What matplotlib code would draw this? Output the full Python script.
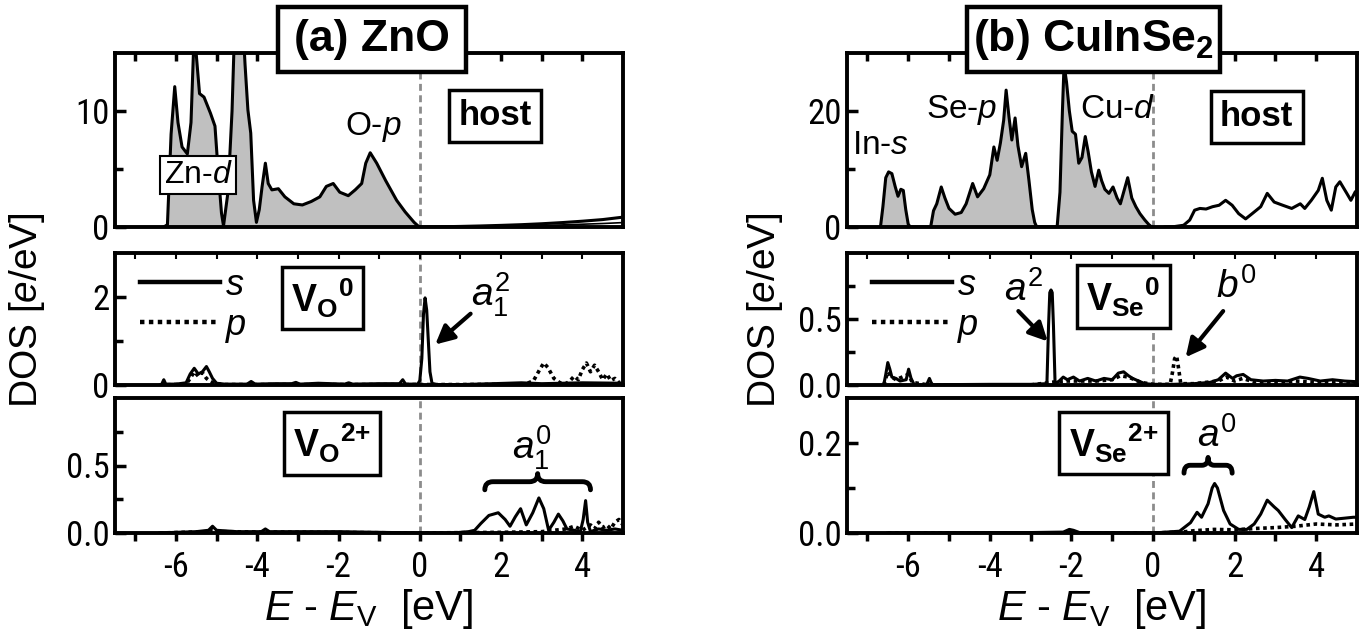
import matplotlib
matplotlib.use('Agg')
import matplotlib.pyplot as plt
from matplotlib import font_manager as fm
from matplotlib.path import Path
from matplotlib.patches import PathPatch, Rectangle

plt.rcParams['font.family'] = ['Liberation Sans', 'DejaVu Sans']
plt.rcParams['mathtext.fontset'] = 'custom'
plt.rcParams['mathtext.rm'] = 'Liberation Sans'
plt.rcParams['mathtext.it'] = 'Liberation Sans:italic'
plt.rcParams['mathtext.bf'] = 'Liberation Sans:bold'
plt.rcParams['axes.unicode_minus'] = False

# pick a condensed face for tick labels if one is installed
_entries = fm.fontManager.ttflist
_names = {f.name for f in _entries}
TICKFONT = None
for nm, sz in [('Roboto Condensed', 25), ('Liberation Sans Narrow', 25),
               ('Open Sans Condensed', 23), ('Noto Sans Condensed', 23),
               ('DejaVu Sans Condensed', 22)]:
    if nm in _names:
        TICKFONT, TICKSIZE = fm.FontProperties(family=nm, size=sz), sz
        break
if TICKFONT is None:
    if any(f.name == 'DejaVu Sans' and f.stretch == 'condensed' for f in _entries):
        TICKFONT, TICKSIZE = fm.FontProperties(family='DejaVu Sans', stretch='condensed', size=22), 22
    else:
        TICKFONT, TICKSIZE = fm.FontProperties(family='Liberation Sans', size=22), 22

# ---------------- data ----------------
XTICKS = [-6, -4, -2, 0, 2, 4]
XTICKLABELS = ['-6', '-4', '-2', '0', '2', '4']
XMINOR = [-7, -5, -3, -1, 1, 3]

# (a) ZnO host
ZNO_VB_E = [-6.30, -6.21, -6.12, -6.03, -5.95, -5.85, -5.72, -5.63, -5.55, -5.48,
            -5.42, -5.31, -5.15, -5.04, -4.97, -4.88, -4.83, -4.72, -4.62, -4.55,
            -4.45, -4.36, -4.30, -4.23, -4.16, -4.09, -4.02, -3.95, -3.88, -3.80,
            -3.73, -3.64, -3.48, -3.32, -3.10, -2.89, -2.67, -2.46, -2.30, -2.13,
            -1.97, -1.76, -1.59, -1.43, -1.33, -1.22, -1.06, -0.84, -0.57, -0.36,
            -0.14, -0.03, 0.00]
ZNO_VB_DOS = [0.0, 0.2, 8.0, 12.1, 9.0, 6.9, 6.3, 9.0, 17.0, 14.0,
              11.5, 11.2, 9.8, 8.7, 5.2, 1.2, 0.1, 3.0, 10.0, 18.0,
              22.0, 18.0, 14.0, 10.1, 8.1, 2.3, 0.4, 1.5, 3.5, 5.5,
              3.75, 3.2, 3.3, 2.6, 2.0, 1.9, 2.2, 2.6, 3.5, 3.75,
              3.0, 2.7, 3.2, 3.75, 5.5, 6.4, 5.5, 4.0, 2.3, 1.3,
              0.4, 0.05, 0.0]
ZNO_CB_E = [0.0, 0.5, 1.0, 1.5, 2.0, 2.5, 3.0, 3.5, 4.0, 4.5, 5.0]
ZNO_CB_DOS1 = [0.0, 0.02, 0.05, 0.09, 0.14, 0.20, 0.28, 0.38, 0.50, 0.64, 0.85]
ZNO_CB_DOS2 = [0.0, 0.01, 0.02, 0.04, 0.06, 0.09, 0.13, 0.18, 0.24, 0.30, 0.38]

# (a) V_O^0
VO0_S_E = [-6.40, -6.35, -6.30, -6.25, -6.00, -5.75, -5.65, -5.55, -5.45, -5.35,
           -5.25, -5.18, -5.10, -5.00, -4.80, -4.25, -4.15, -4.05, -3.60, -3.15,
           -3.05, -2.95, -2.50, -1.85, -1.75, -1.65, -1.00, -0.50, -0.42, -0.35,
           -0.05, 0.00, 0.05, 0.09, 0.13, 0.17, 0.21, 0.25, 0.30, 0.40,
           1.00, 1.80, 2.50, 3.00, 4.00, 5.00]
VO0_S_DOS = [0.0, 0.02, 0.12, 0.02, 0.02, 0.05, 0.25, 0.38, 0.25, 0.30,
             0.42, 0.30, 0.15, 0.04, 0.02, 0.02, 0.08, 0.02, 0.03, 0.03,
             0.06, 0.02, 0.04, 0.02, 0.05, 0.02, 0.03, 0.03, 0.12, 0.02,
             0.02, 0.10, 0.60, 1.60, 1.98, 1.70, 1.00, 0.30, 0.04, 0.01,
             0.01, 0.03, 0.05, 0.03, 0.05, 0.04]
VO0_P_E = [-6.40, -5.75, -5.65, -5.55, -5.45, -5.35, -5.25, -5.15, -5.05, -4.80,
           -3.00, -1.00, 0.00, 1.00, 2.60, 2.80, 2.95, 3.05, 3.15, 3.30,
           3.45, 3.60, 3.70, 3.80, 3.90, 4.00, 4.10, 4.20, 4.30, 4.40,
           4.50, 4.60, 4.70, 4.80, 4.90, 5.00]
VO0_P_DOS = [0.0, 0.02, 0.15, 0.30, 0.20, 0.28, 0.15, 0.08, 0.03, 0.01,
             0.01, 0.01, 0.01, 0.01, 0.02, 0.10, 0.35, 0.50, 0.40, 0.15,
             0.05, 0.03, 0.10, 0.20, 0.12, 0.35, 0.50, 0.30, 0.45, 0.30,
             0.12, 0.25, 0.10, 0.15, 0.05, 0.08]

# (a) V_O^2+
VO2_S_E = [-6.40, -6.00, -5.50, -5.20, -5.10, -5.00, -4.50, -3.90, -3.80, -3.70,
           -3.00, -2.00, -1.00, 0.00, 0.80, 1.00, 1.20, 1.35, 1.50, 1.70,
           1.93, 2.10, 2.22, 2.35, 2.48, 2.62, 2.78, 2.93, 3.05, 3.17,
           3.30, 3.41, 3.52, 3.62, 3.80, 3.95, 4.02, 4.08, 4.13, 4.20,
           4.40, 4.60, 4.80, 5.00]
VO2_S_DOS = [0.0, 0.005, 0.01, 0.02, 0.05, 0.02, 0.01, 0.01, 0.03, 0.01,
             0.01, 0.01, 0.005, 0.0, 0.0, 0.005, 0.01, 0.02, 0.07, 0.13,
             0.15, 0.10, 0.05, 0.12, 0.18, 0.06, 0.15, 0.26, 0.18, 0.02,
             0.08, 0.14, 0.09, 0.03, 0.02, 0.01, 0.10, 0.24, 0.08, 0.01,
             0.03, 0.02, 0.03, 0.02]
VO2_P_E = [-6.4, -5.2, -5.1, -5.0, 0.0, 2.0, 3.0, 3.6, 3.8, 4.0,
           4.2, 4.3, 4.4, 4.5, 4.6, 4.7, 4.8, 4.9, 5.0]
VO2_P_DOS = [0.0, 0.01, 0.03, 0.01, 0.0, 0.005, 0.01, 0.03, 0.05, 0.02,
             0.06, 0.03, 0.08, 0.04, 0.06, 0.03, 0.08, 0.10, 0.06]

# (b) CuInSe2 host (In-s, Se-p, Cu-d bands)
CIS_VB_E = [-6.68, -6.62, -6.55, -6.48, -6.40, -6.32, -6.25, -6.18, -6.12, -6.06, -6.00, -5.95,
            -5.45, -5.38, -5.30, -5.19, -5.10, -5.00, -4.85, -4.70, -4.58, -4.42,
            -4.30, -4.15, -4.00, -3.90, -3.82, -3.74, -3.66, -3.60, -3.53, -3.46,
            -3.38, -3.31, -3.22, -3.12, -3.04, -2.96, -2.90, -2.85,
            -2.35, -2.28, -2.22, -2.18, -2.12, -2.05, -1.98, -1.90, -1.82, -1.74,
            -1.66, -1.59, -1.51, -1.42, -1.33, -1.26, -1.18, -1.08, -0.98, -0.88,
            -0.80, -0.72, -0.62, -0.52, -0.42, -0.32, -0.20, -0.10, -0.03]
CIS_VB_DOS = [0.0, 3.5, 8.5, 9.5, 9.2, 7.0, 5.3, 6.5, 6.3, 3.0, 0.5, 0.0,
              0.0, 2.8, 4.0, 6.9, 5.0, 3.2, 2.2, 2.5, 4.0, 7.5,
              5.2, 6.6, 9.0, 13.8, 11.5, 14.5, 18.4, 23.6, 19.0, 15.0,
              18.8, 14.0, 10.4, 12.7, 8.0, 3.0, 0.8, 0.0,
              0.0, 6.0, 20.0, 28.0, 25.0, 20.0, 16.5, 16.0, 11.0, 12.0,
              15.6, 13.0, 9.5, 7.0, 9.8, 8.0, 6.5, 5.8, 6.9, 5.0,
              4.0, 6.0, 8.5, 5.0, 3.5, 2.3, 1.2, 0.4, 0.0]
CIS_CB_E = [0.30, 0.50, 0.75, 0.90, 1.02, 1.15, 1.30, 1.46, 1.62, 1.78,
            1.94, 2.10, 2.27, 2.43, 2.64, 2.80, 2.97, 3.18, 3.40, 3.61,
            3.72, 3.88, 4.05, 4.15, 4.26, 4.37, 4.48, 4.58, 4.75, 4.85,
            4.96, 5.00]
CIS_CB_DOS = [0.0, 0.05, 0.3, 1.2, 2.9, 3.2, 3.1, 3.5, 3.75, 4.6,
              3.75, 2.3, 1.4, 2.3, 3.5, 5.8, 4.3, 3.75, 3.2, 4.0,
              3.2, 4.6, 6.3, 8.4, 4.6, 2.9, 6.9, 7.8, 5.8, 4.6,
              6.1, 5.5]

# (b) V_Se^0
VSE0_S_E = [-6.60, -6.55, -6.50, -6.45, -6.40, -6.30, -6.20, -6.05, -5.99, -5.93,
            -5.85, -5.55, -5.48, -5.44, -5.40, -5.00, -4.00, -3.00, -2.60, -2.56,
            -2.53, -2.50, -2.47, -2.44, -2.40, -2.30, -2.20, -2.10, -1.95, -1.80,
            -1.60, -1.40, -1.20, -1.00, -0.85, -0.72, -0.60, -0.50, -0.35, -0.20,
            0.00, 0.50, 1.00, 1.40, 1.60, 1.78, 1.95, 2.05, 2.21, 2.40,
            2.70, 3.00, 3.30, 3.60, 3.80, 4.10, 4.40, 4.70, 5.00]
VSE0_S_DOS = [0.0, 0.08, 0.17, 0.12, 0.06, 0.05, 0.03, 0.04, 0.12, 0.05,
              0.0, 0.0, 0.05, 0.02, 0.0, 0.003, 0.005, 0.005, 0.01, 0.45,
              0.70, 0.72, 0.70, 0.45, 0.01, 0.03, 0.06, 0.04, 0.06, 0.03,
              0.05, 0.03, 0.05, 0.04, 0.09, 0.10, 0.07, 0.05, 0.03, 0.01,
              0.005, 0.005, 0.01, 0.02, 0.04, 0.09, 0.05, 0.07, 0.08, 0.04,
              0.03, 0.035, 0.03, 0.06, 0.05, 0.03, 0.04, 0.03, 0.025]
VSE0_P_E = [-6.60, -6.50, -6.40, -6.30, -6.00, -5.90, -5.50, -3.00, -2.50, -2.20,
            -1.80, -1.40, -1.00, -0.80, -0.60, -0.30, 0.00, 0.42, 0.48, 0.53,
            0.58, 0.63, 0.68, 1.00, 1.60, 1.80, 2.00, 2.20, 2.50, 3.00,
            3.50, 4.00, 4.50, 5.00]
VSE0_P_DOS = [0.0, 0.10, 0.06, 0.04, 0.08, 0.02, 0.0, 0.0, 0.02, 0.03,
              0.03, 0.03, 0.04, 0.07, 0.06, 0.02, 0.005, 0.005, 0.10, 0.20,
              0.22, 0.12, 0.01, 0.01, 0.03, 0.06, 0.03, 0.05, 0.02, 0.02,
              0.03, 0.02, 0.02, 0.01]

# (b) V_Se^2+
VSE2_S_E = [-6.50, -3.00, -2.20, -2.05, -1.95, -1.80, 0.00, 0.65, 0.92, 1.08,
            1.19, 1.35, 1.45, 1.51, 1.58, 1.73, 1.89, 2.10, 2.30, 2.48,
            2.64, 2.80, 2.97, 3.07, 3.24, 3.40, 3.56, 3.72, 3.83, 3.94,
            4.05, 4.21, 4.31, 4.48, 4.70, 4.91, 5.00]
VSE2_S_DOS = [0.0, 0.001, 0.002, 0.008, 0.006, 0.001, 0.0, 0.004, 0.023, 0.046,
              0.035, 0.065, 0.10, 0.11, 0.10, 0.05, 0.02, 0.008, 0.008, 0.02,
              0.042, 0.073, 0.058, 0.05, 0.03, 0.012, 0.038, 0.03, 0.058, 0.092,
              0.042, 0.035, 0.038, 0.031, 0.033, 0.035, 0.035]
VSE2_P_E = [-6.5, 0.0, 0.7, 1.0, 1.5, 2.0, 2.5, 3.0, 3.5, 4.0, 4.5, 5.0]
VSE2_P_DOS = [0.0, 0.0, 0.002, 0.005, 0.008, 0.007, 0.010, 0.012, 0.015, 0.020, 0.018, 0.020]

# ---------------- figure ----------------
W, H = 1366, 637
fig = plt.figure(figsize=(W / 100, H / 100), dpi=100)


def fx(px):
    return px / W


def fy(py):
    return 1 - py / H


COLS = [(115, 623), (847, 1357)]
ROWS = [(53, 227), (253, 385), (398, 533)]

axes = {}
for ci, (x0, x1) in enumerate(COLS):
    for ri, (y0, y1) in enumerate(ROWS):
        axes[(ci, ri)] = fig.add_axes([fx(x0), fy(y1), fx(x1 - x0), (y1 - y0) / H])

YCFG = {
    (0, 0): ((0, 15), [0, 10], ['0', '10'], [5]),
    (0, 1): ((0, 3), [0, 2], ['0', '2'], [1]),
    (0, 2): ((0, 1), [0, 0.5], ['0.0', '0.5'], [0.25, 0.75]),
    (1, 0): ((0, 30), [0, 20], ['0', '20'], [10]),
    (1, 1): ((0, 1), [0, 0.5], ['0.0', '0.5'], [0.25, 0.75]),
    (1, 2): ((0, 0.3), [0, 0.2], ['0.0', '0.2'], [0.1]),
}

LW_SPINE = 2.8
for key, ax in axes.items():
    ci, ri = key
    ylim, yt, yl, ym = YCFG[key]
    ax.set_xlim(-7.5, 5)
    ax.set_ylim(*ylim)
    ax.set_yticks(yt)
    ax.set_yticklabels(yl, fontproperties=TICKFONT)
    ax.set_yticks(ym, minor=True)
    ax.tick_params(axis='y', which='both', direction='in', left=True, right=False,
                   width=2.5, pad=4)
    ax.tick_params(axis='y', which='major', length=8)
    ax.tick_params(axis='y', which='minor', length=6)
    ax.set_xticks(XTICKS)
    ax.set_xticks(XMINOR, minor=True)
    if ri == 2:
        ax.set_xticklabels(XTICKLABELS, fontproperties=TICKFONT)
        ax.tick_params(axis='x', which='both', direction='out', bottom=True, top=False,
                       width=2.5, length=6, pad=7)
    else:
        ax.set_xticklabels([])
        ax.tick_params(axis='x', which='both', direction='in', bottom=False, top=True,
                       width=2.5 if ri == 0 else 1.5, length=6 if ri == 0 else 4,
                       labelbottom=False)
    for s in ax.spines.values():
        s.set_linewidth(LW_SPINE)
    ax.axvline(0, color='#8c8c8c', lw=2, ls=(0, (2.5, 1.6)), zorder=1)

LW = 2.2
DOT = (0, (1, 1))

# --- (a) host
ax = axes[(0, 0)]
ax.fill_between(ZNO_VB_E, ZNO_VB_DOS, 0, color='#c0c0c0', lw=0, zorder=2)
ax.plot(ZNO_VB_E, ZNO_VB_DOS, color='k', lw=LW, zorder=3)
ax.plot(ZNO_CB_E, ZNO_CB_DOS1, color='k', lw=LW, zorder=3)
ax.plot(ZNO_CB_E, ZNO_CB_DOS2, color='k', lw=1.2, zorder=3)
ax.text(1.85, 9.6, 'host', fontsize=25, fontweight='bold', ha='center', va='center',
        bbox=dict(boxstyle='square,pad=0.27', fc='w', ec='k', lw=2.5), zorder=5)
ax.text(-5.45, 4.5, r'Zn-$\mathit{d}$', fontsize=23, ha='center', va='center',
        bbox=dict(boxstyle='square,pad=0.12', fc='w', ec='k', lw=1.5), zorder=5)
ax.text(-1.15, 8.6, r'O-$\mathit{p}$', fontsize=24, ha='center', va='center', zorder=5)

# --- (a) V_O^0
ax = axes[(0, 1)]
ax.plot(VO0_S_E, VO0_S_DOS, color='k', lw=LW, zorder=3, label=r'$\mathit{s}$')
ax.plot(VO0_P_E, VO0_P_DOS, color='k', lw=2.6, ls=DOT, zorder=3, label=r'$\mathit{p}$')
ax.text(-2.4, 1.98, r'$\mathbf{V}_{\mathbf{O}}{}^{\mathbf{0}}$', fontsize=27, ha='center', va='center',
        bbox=dict(boxstyle='square,pad=0.25', fc='w', ec='k', lw=2.5), zorder=5)
ax.text(1.75, 2.05, r'$\mathit{a}_{\mathrm{1}}^{\mathrm{2}}$', fontsize=28, ha='center', va='center', zorder=5)
ax.annotate('', xy=(0.38, 0.92), xytext=(1.25, 1.62),
            arrowprops=dict(arrowstyle='-|>', color='k', lw=3, mutation_scale=28,
                            shrinkA=0, shrinkB=0), zorder=6)

# --- (a) V_O^2+
ax = axes[(0, 2)]
ax.plot(VO2_S_E, VO2_S_DOS, color='k', lw=LW, zorder=3)
ax.plot(VO2_P_E, VO2_P_DOS, color='k', lw=2.6, ls=DOT, zorder=3)
ax.text(-2.16, 0.665, r'$\mathbf{V}_{\mathbf{O}}{}^{\mathbf{2{+}}}$', fontsize=27, ha='center', va='center',
        bbox=dict(boxstyle='square,pad=0.25', fc='w', ec='k', lw=2.5), zorder=5)
ax.text(2.75, 0.63, r'$\mathit{a}_{\mathrm{1}}^{\mathrm{0}}$', fontsize=28, ha='center', va='center', zorder=5)

# --- (b) host
ax = axes[(1, 0)]
ax.fill_between(CIS_VB_E, CIS_VB_DOS, 0, color='#c0c0c0', lw=0, zorder=2)
ax.plot(CIS_VB_E, CIS_VB_DOS, color='k', lw=LW, zorder=3)
ax.plot(CIS_CB_E, CIS_CB_DOS, color='k', lw=LW, zorder=3)
ax.text(2.54, 19.0, 'host', fontsize=25, fontweight='bold', ha='center', va='center',
        bbox=dict(boxstyle='square,pad=0.27', fc='w', ec='k', lw=2.5), zorder=5)
ax.text(-6.68, 14.0, r'In-$\mathit{s}$', fontsize=24, ha='center', va='center', zorder=5)
ax.text(-4.7, 20.2, r'Se-$\mathit{p}$', fontsize=24, ha='center', va='center', zorder=5)
ax.text(-0.87, 20.3, r'Cu-$\mathit{d}$', fontsize=24, ha='center', va='center', zorder=5)

# --- (b) V_Se^0
ax = axes[(1, 1)]
ax.plot(VSE0_S_E, VSE0_S_DOS, color='k', lw=LW, zorder=3, label=r'$\mathit{s}$')
ax.plot(VSE0_P_E, VSE0_P_DOS, color='k', lw=2.6, ls=DOT, zorder=3, label=r'$\mathit{p}$')
ax.text(-0.72, 0.67, r'$\mathbf{V}_{\mathbf{Se}}{}^{\mathbf{0}}$', fontsize=27, ha='center', va='center',
        bbox=dict(boxstyle='square,pad=0.25', fc='w', ec='k', lw=2.5), zorder=5)
ax.text(-3.18, 0.72, r'$\mathit{a}^{\mathrm{2}}$', fontsize=28, ha='center', va='center', zorder=5)
ax.annotate('', xy=(-2.58, 0.33), xytext=(-3.3, 0.56),
            arrowprops=dict(arrowstyle='-|>', color='k', lw=3, mutation_scale=28,
                            shrinkA=0, shrinkB=0), zorder=6)
ax.text(2.05, 0.74, r'$\mathit{b}^{\mathrm{0}}$', fontsize=28, ha='center', va='center', zorder=5)
ax.annotate('', xy=(0.8, 0.21), xytext=(1.72, 0.56),
            arrowprops=dict(arrowstyle='-|>', color='k', lw=3, mutation_scale=28,
                            shrinkA=0, shrinkB=0), zorder=6)

# --- (b) V_Se^2+
ax = axes[(1, 2)]
ax.plot(VSE2_S_E, VSE2_S_DOS, color='k', lw=LW, zorder=3)
ax.plot(VSE2_P_E, VSE2_P_DOS, color='k', lw=2.6, ls=DOT, zorder=3)
ax.text(-0.97, 0.2, r'$\mathbf{V}_{\mathbf{Se}}{}^{\mathbf{2{+}}}$', fontsize=27, ha='center', va='center',
        bbox=dict(boxstyle='square,pad=0.25', fc='w', ec='k', lw=2.5), zorder=5)
ax.text(1.55, 0.215, r'$\mathit{a}^{\mathrm{0}}$', fontsize=28, ha='center', va='center', zorder=5)


def brace(ax, x0, x1, xm, yb, yt, q):
    ym = (yb + yt) / 2
    verts = [(x0, yb), (x0, ym), (x0 + q, ym),
             (xm - q, ym),
             (xm, ym), (xm, yt),
             (xm, ym), (xm + q, ym),
             (x1 - q, ym),
             (x1, ym), (x1, yb)]
    codes = [Path.MOVETO, Path.CURVE3, Path.CURVE3,
             Path.LINETO,
             Path.CURVE3, Path.CURVE3,
             Path.CURVE3, Path.CURVE3,
             Path.LINETO,
             Path.CURVE3, Path.CURVE3]
    ax.add_patch(PathPatch(Path(verts, codes), fc='none', ec='k', lw=3.5,
                           capstyle='round', joinstyle='round', zorder=5))


brace(axes[(0, 2)], 1.6, 4.2, 2.9, 0.32, 0.44, 0.2)
brace(axes[(1, 2)], 0.76, 1.94, 1.35, 0.133, 0.168, 0.15)

# legends (s / p)
for key in [(0, 1), (1, 1)]:
    leg = axes[key].legend(loc='upper left', bbox_to_anchor=(0.05, 0.89), frameon=False,
                           fontsize=26, handlelength=2.2, handletextpad=0.15,
                           labelspacing=0.15, borderpad=0, borderaxespad=0)
    for line in leg.get_lines():
        line.set_linewidth(3.2)
    leg.set_zorder(6)

# titles
TITLE_BOXES = [(278, 466, '(a) ZnO'), (967, 1220, r'(b) CuInSe$_{\mathbf{2}}$')]
for x0, x1, t in TITLE_BOXES:
    fig.add_artist(Rectangle((fx(x0), fy(72)), fx(x1 - x0), 65 / H, transform=fig.transFigure,
                             fc='w', ec='k', lw=3.2, zorder=10))
    fig.text(fx((x0 + x1) / 2), fy(40), t, fontsize=32, fontweight='bold',
             ha='center', va='center', zorder=11)

# axis labels
for (x0, x1), ylx in zip(COLS, [27, 765]):
    fig.text(fx((x0 + x1) / 2), fy(620), r'$\mathit{E}$ - $\mathit{E}_{\mathrm{V}}$  [eV]',
             fontsize=30, ha='center', va='baseline')
    fig.text(fx(ylx), fy(310), r'DOS [$\mathit{e}$/eV]', fontsize=28, rotation=90,
             ha='center', va='center')

fig.savefig('out.png', dpi=100)
